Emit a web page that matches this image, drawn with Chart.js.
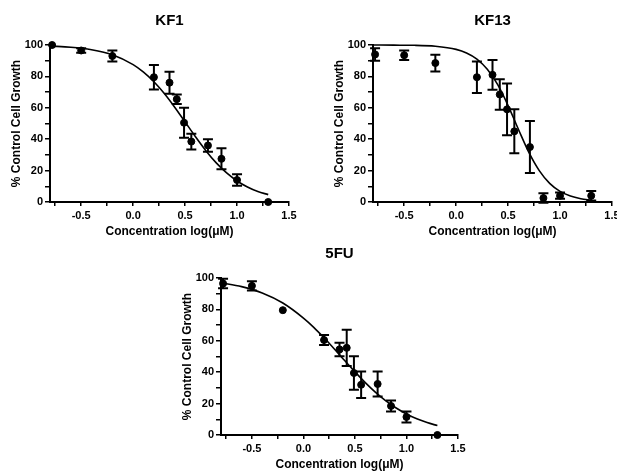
<!DOCTYPE html>
<html>
<head>
<meta charset="utf-8">
<script src="https://cdn.jsdelivr.net/npm/chart.js@4.4.1/dist/chart.umd.min.js"></script>
<style>
  html, body { margin: 0; padding: 0; background: #fff; overflow: hidden; width: 617px; height: 473px; }
  canvas { position: absolute; }
</style>
</head>
<body>
<canvas id="kf1" width="300" height="245" style="left:0px;top:0px"></canvas>
<canvas id="kf13" width="300" height="245" style="left:323px;top:0px"></canvas>
<canvas id="fu5" width="300" height="240" style="left:171px;top:233px"></canvas>
<script>
// x tick positions (log concentration), labels only on the half units
const xTicks = [-0.75, -0.5, -0.25, 0, 0.25, 0.5, 0.75, 1.0, 1.25, 1.5];

// measured points, log(uM)
const kf1X = [-0.78, -0.5, -0.2, 0.2, 0.35, 0.42, 0.49, 0.56, 0.72, 0.85, 1.0, 1.3];
const kf1Y = [100, 96.5, 93, 79.5, 76, 65.5, 50.5, 38.5, 36, 27.5, 14, 0];
const kf1Err = [0, 1.5, 3.5, 7.8, 7, 3, 9.5, 5, 4, 6.7, 3.7, 0];

const kf13X = [-0.78, -0.5, -0.2, 0.2, 0.35, 0.42, 0.49, 0.56, 0.71, 0.84, 1.0, 1.3];
const kf13Y = [94, 93.5, 88.5, 79.5, 81, 68.5, 59, 45, 35, 2.5, 4, 4];
const kf13Err = [4, 3, 5.3, 10, 9.5, 9.7, 16.5, 14, 16.6, 3, 2, 3];

const fuX = [-0.78, -0.5, -0.2, 0.2, 0.35, 0.42, 0.49, 0.56, 0.72, 0.85, 1.0, 1.3];
const fuY = [96.5, 95, 79.5, 60.5, 54.5, 55.5, 39.5, 32, 32.5, 18.5, 11.5, 0];
const fuErr = [3, 3, 0, 3.2, 4.3, 11.5, 10.6, 8.5, 8, 3.5, 3.5, 0];

// fitted curves
const curveX = [-0.8, -0.6, -0.4, -0.2, 0, 0.1, 0.2, 0.3, 0.4, 0.5, 0.6, 0.7, 0.8, 0.9, 1.0, 1.1, 1.2, 1.3];
const kf1Curve = [99.3, 98.6, 97.0, 93.8, 87.5, 82.7, 76.6, 69.1, 60.4, 51.0, 41.6, 32.7, 24.9, 18.5, 13.4, 9.6, 6.7, 4.7];
const kf13Curve = [100, 99.9, 99.8, 99.2, 97.2, 94.9, 91.0, 84.5, 74.7, 61.4, 46.2, 31.6, 20.0, 11.9, 6.8, 3.8, 2.1, 1.1];
const fuCurve = [96.9, 94.5, 90.5, 84.1, 74.5, 68.6, 61.9, 54.8, 47.4, 40.2, 33.4, 27.2, 21.8, 17.2, 13.4, 10.3, 7.9, 6.0];

const fam = '"Liberation Sans", Arial, Helvetica, sans-serif';

// draws the vertical error bars with caps for dataset 1
const errorBars = {
    id: 'errorBars',
    afterDatasetsDraw(chart) {
        const errs = chart.options.plugins.errorBars.errs;
        const ds = chart.data.datasets[1];
        const xs = chart.scales.x;
        const ys = chart.scales.y;
        const ctx = chart.ctx;
        ctx.save();
        ctx.strokeStyle = '#000';
        ctx.lineWidth = 2;
        for (let i = 0; i < ds.data.length; i++) {
            const e = errs[i];
            if (!e) continue;
            const px = xs.getPixelForValue(ds.data[i].x);
            const top = ys.getPixelForValue(ds.data[i].y + e);
            const bot = ys.getPixelForValue(ds.data[i].y - e);
            ctx.beginPath();
            ctx.moveTo(px, top);
            ctx.lineTo(px, bot);
            ctx.moveTo(px - 5, top);
            ctx.lineTo(px + 5, top);
            ctx.moveTo(px - 5, bot);
            ctx.lineTo(px + 5, bot);
            ctx.stroke();
        }
        ctx.restore();
    }
};

function panel(id, title, xs, ys, errs, curve, opt) {
    const canvas = document.getElementById(id);
    const h = canvas.height;
    return new Chart(canvas, {
        type: 'scatter',
        data: {
            datasets: [{
                type: 'line',
                data: curveX.map((x, i) => ({ x: x, y: curve[i] })),
                borderColor: '#000',
                borderWidth: 1.6,
                pointRadius: 0,
                fill: false,
                cubicInterpolationMode: 'monotone',
                clip: false
            }, {
                data: xs.map((x, i) => ({ x: x, y: ys[i] })),
                backgroundColor: '#000',
                borderColor: '#000',
                pointRadius: 3.5,
                clip: false
            }]
        },
        options: {
            responsive: false,
            animation: false,
            events: [],
            layout: { padding: { left: 0, right: opt.right, top: 0, bottom: 0 } },
            plugins: {
                legend: { display: false },
                tooltip: { enabled: false },
                title: {
                    display: true,
                    fullSize: false,
                    text: title,
                    color: '#000',
                    font: { family: fam, size: 15, weight: 'bold' },
                    padding: { top: opt.titleTop, bottom: 45 - opt.titleTop - 18 }
                },
                errorBars: { errs: errs }
            },
            scales: {
                x: {
                    type: 'linear',
                    min: -0.8,
                    max: 1.5,
                    afterBuildTicks: (scale) => { scale.ticks = xTicks.map(v => ({ value: v })); },
                    afterFit: (scale) => { scale.height = h - 202; },
                    grid: { drawOnChartArea: false, drawTicks: true, tickLength: 4, color: '#000', lineWidth: 1.5 },
                    border: { color: '#000', width: 2 },
                    ticks: {
                        autoSkip: false,
                        maxRotation: 0,
                        padding: 3,
                        color: '#000',
                        font: { family: fam, size: 11, weight: 'bold' },
                        callback: (v) => (Math.abs(v * 2 - Math.round(v * 2)) < 1e-6 ? Number(v).toFixed(1) : '')
                    },
                    title: {
                        display: true,
                        text: 'Concentration log(\u03bcM)',
                        color: '#000',
                        font: { family: fam, size: 12, weight: 'bold' },
                        padding: { top: 0, bottom: h - 7.2 - 232 }
                    }
                },
                y: {
                    min: 0,
                    max: 100,
                    afterFit: (scale) => { scale.width = 50; },
                    grid: { drawOnChartArea: false, drawTicks: true, tickLength: 5, color: '#000', lineWidth: 1.5 },
                    border: { color: '#000', width: 2 },
                    ticks: {
                        stepSize: 10,
                        autoSkip: false,
                        padding: 2,
                        color: '#000',
                        font: { family: fam, size: 11, weight: 'bold' },
                        callback: (v) => (v % 20 === 0 ? v : '')
                    },
                    title: {
                        display: true,
                        text: '% Control Cell Growth',
                        color: '#000',
                        font: { family: fam, size: 12, weight: 'bold' },
                        padding: { top: 9, bottom: 0 }
                    }
                }
            }
        },
        plugins: [errorBars]
    });
}

panel('kf1', 'KF1', kf1X, kf1Y, kf1Err, kf1Curve, { right: 11, titleTop: 12 });
panel('kf13', 'KF13', kf13X, kf13Y, kf13Err, kf13Curve, { right: 11, titleTop: 12 });
panel('fu5', '5FU', fuX, fuY, fuErr, fuCurve, { right: 13, titleTop: 12 });
</script>
</body>
</html>
